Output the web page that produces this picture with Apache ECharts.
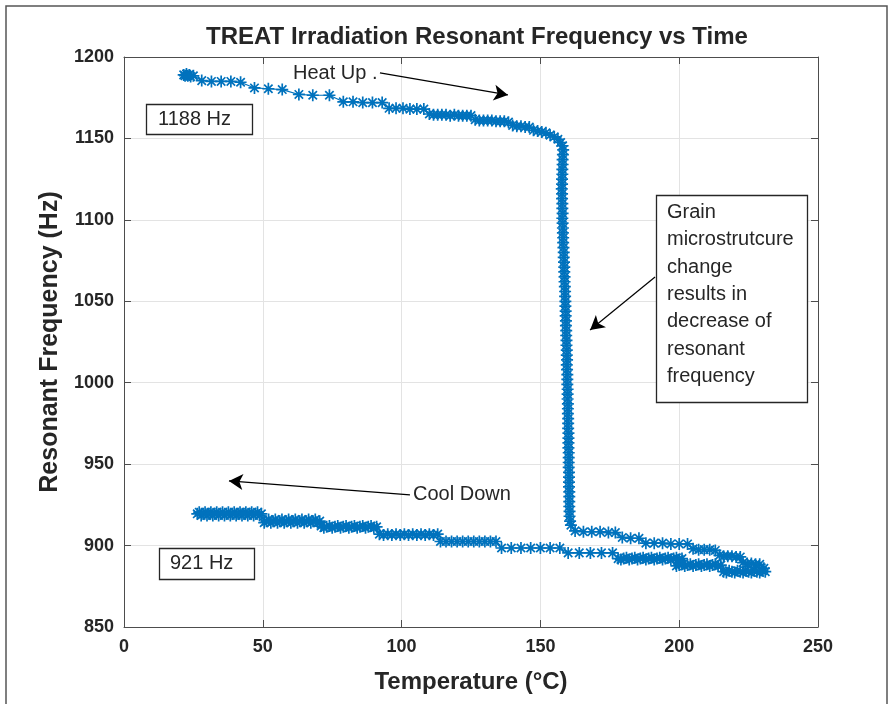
<!DOCTYPE html>
<html><head><meta charset="utf-8">
<script src="https://cdn.jsdelivr.net/npm/echarts/dist/echarts.min.js"></script>
<style>html,body{margin:0;padding:0;background:#fff}#c{width:893px;height:704px}</style>
</head><body><div id="c"></div><script>
const xTicks = [0, 50, 100, 150, 200, 250];
const yTicks = [850, 900, 950, 1000, 1050, 1100, 1150, 1200];

// Heat up: slow decrease
const heatUpTop = [
[21.5,1189],[22,1188.5],[22.5,1189.5],[23,1188.5],[23.5,1189],[24,1188],[25,1188.5],
[28,1185.5],[31.5,1185],[35,1185],[38.5,1185],[42,1184.5],
[47,1181],[52,1180.5],[57,1180],
[63,1177],[68,1176.5],[74,1176.5],
[79,1172.5],[82.5,1172.5],[86,1172],[89.5,1172],[93,1172],
[95.5,1168.5],[98,1168.5],[100.5,1168.5],[103,1168],[105.5,1168],[108,1168],
[110,1165],[111.5,1164.5],[113,1164.5],[114.5,1164.5],[116,1164.5],[117.5,1164],[119,1164.5],[120.5,1164],[122,1164],[123.5,1164],[125,1164],
[126.5,1161.5],[128,1161],[129.5,1161],[131,1161],[132.5,1161],[134,1160.5],[135.5,1160.5],[137,1160.5],[138.5,1160],
[140,1158],[141.5,1157.5],[143,1157.5],[144.5,1157],[146,1157],
[147.5,1155],[149,1154.5],[150.5,1154],[152,1153.5],
[153.5,1152],[155,1151],[156.3,1149.5],[157.3,1147.5],[158,1145.5]
];
// Heat up: sharp drop (grain microstructure change)
const heatUpDrop = [
[158.2,1143],[158.1,1140],[158,1137],[158,1134],[157.9,1131],[157.9,1128],[157.8,1125],[157.8,1122],[157.7,1119],[157.8,1116],
[157.8,1113],[157.9,1110],[157.9,1107],[158,1104],[157.9,1101],[158,1098],[158.1,1095],[158.1,1092],[158.2,1089],[158.2,1086],
[158.3,1083],[158.4,1080],[158.4,1077],[158.5,1074],[158.6,1071],[158.6,1068],[158.7,1065],[158.7,1062],[158.8,1059],[158.9,1056],
[158.9,1053],[159,1050],[159,1047],[159.1,1044],[159.1,1041],[159.2,1038],[159.2,1035],[159.3,1032],[159.3,1029],[159.4,1026],
[159.4,1023],[159.5,1020],[159.5,1017],[159.6,1014],[159.5,1011],[159.6,1008],[159.7,1005],[159.7,1002],[159.7,999],[159.8,996],
[159.8,993],[159.8,990],[159.9,987],[159.9,984],[159.9,981],[160,978],[160,975],[160,972],[160.1,969],[160.1,966],
[160.1,963],[160.1,960],[160.2,957],[160.2,954],[160.2,951],[160.2,948],[160.3,945],[160.3,942],[160.3,939],[160.3,936],
[160.4,933],[160.4,930],[160.4,927],[160.4,924],[160.5,921],[160.5,918],[160.7,915],[161,912.5]
];
// Heat up: after the drop, up to max temperature
const heatUpBottom = [
[162.5,909],[165.5,908.5],[168.5,908.5],[171.5,908.5],[174.5,908],[177,908],
[179.5,905],[182.5,904.5],[185.5,904.5],
[188,901.5],[191,901.5],[194,901.5],[197,901],[200,901],[203,901],
[205,898],[207,897.5],[209,897.5],[211,897.5],[213,897],
[214.5,894],[216,893.5],[217.5,893.5],[219,893.5],[220.5,893],[222,893],
[223,889.5],[224.5,889],[226,889],[227.5,888.5],[229,888.5],[230.5,886]
];
// Cool down: high temperature part
const coolDownRight = [
[231,884],[230,884.5],[229,883.5],[228,884],[227,884.5],[226,883.5],[225,884],[224,884.5],[223,883.5],[222,884],[221,884.5],[220,883.5],[219,884],[218,884.5],[217,883.5],[216,884],
[215,888],[214,887.5],[213,888.5],[212,888],[211,887.5],[210,888.5],[209,888],[208,887.5],[207,888.5],[206,888],[205,887.5],[204,888.5],[203,888],[202,887.5],[201,888.5],[200,888],[199,887.5],
[201,892],[200,891.5],[199,892.5],[198,892],[197,891.5],[196,892.5],[195,892],[194,891.5],[193,892.5],[192,892],[191,891.5],[190,892.5],[189,892],[188,891.5],[187,892.5],[186,892],[185,891.5],[184,892.5],[183,892],[182,891.5],[181,892.5],[180,892],[179,891.5],[178,892],
[176,895.5],[172,895.5],[168,895.5],[164,895.5],[160,895.5],
[157,898.5],[153.5,898.5],[150,898.5],[146.5,898.5],[143,898.5],[139.5,898.5],[136,898.5]
];
// Cool down: low temperature part
const coolDownLeft = [
[134,902.5],[132,902.5],[130,902.5],[128,902.5],[126,902.5],[124,902.5],[122,902.5],[120,902.5],[118,902.5],[116,902.5],[114,902.5],
[113,907],[111.5,906.5],[110,907],[108.5,906.5],[107,907],[105.5,906.5],[104,907],[102.5,906.5],[101,907],[99.5,906.5],[98,907],[96.5,906.5],[95,907],[93.5,906.5],[92,907],
[91,911.5],[90,911],[89,912],[88,911.5],[87,911],[86,912],[85,911.5],[84,911],[83,912],[82,911.5],[81,911],[80,912],[79,911.5],[78,911],[77,912],[76,911.5],[75,911],[74,912],[73,911.5],[72,911],[71,912],
[70.5,915],[69.7,914],[68.9,916],[68.1,915],[67.3,914],[66.5,916],[65.7,915],[64.9,914],[64.1,916],[63.3,915],[62.5,914],[61.7,916],[60.9,915],[60.1,914],[59.3,916],[58.5,915],[57.7,914],[56.9,916],[56.1,915],[55.3,914],[54.5,916],[53.7,915],[52.9,914],[52.1,916],[51.3,915],[50.5,914],
[49.5,919.5],[48.8,918.5],[48.1,920.5],[47.4,919.5],[46.7,918.5],[46,920.5],[45.3,919.5],[44.6,918.5],[43.9,920.5],[43.2,919.5],[42.5,918.5],[41.8,920.5],[41.1,919.5],[40.4,918.5],[39.7,920.5],[39,919.5],[38.3,918.5],[37.6,920.5],[36.9,919.5],[36.2,918.5],[35.5,920.5],[34.8,919.5],[34.1,918.5],[33.4,920.5],[32.7,919.5],[32,918.5],[31.3,920.5],[30.6,919.5],[29.9,918.5],[29.2,920.5],[28.5,919.5],[27.8,918.5],[27.1,920.5],[26.4,919.5]
];

// Annotation arrows [from, to] in data coordinates
const arrows = [
  [[92.2, 1190.2], [138.3, 1176.7]],
  [[103, 931.1], [37.8, 939.7]],
  [[191.3, 1064.9], [167.9, 1032.4]]
];

const allData = heatUpTop.concat(heatUpDrop, heatUpBottom, coolDownRight, coolDownLeft);

const BLUE = '#0072BD';
const TXT = '#262626';
const AXC = '#4d4d4d';
const FONT = '"Liberation Sans", Arial, Helvetica, sans-serif';
const asterisk = 'path://M10 0L10 20M0 10L20 10M3 3L17 17M17 3L3 17';

const chart = echarts.init(document.getElementById('c'), null, {renderer: 'canvas'});

const baseAxis = {
  axisLine: {show: true, onZero: false, lineStyle: {color: AXC, width: 1}},
  axisTick: {show: true, inside: true, length: 7, lineStyle: {color: AXC}},
};

chart.setOption({
  animation: false,
  backgroundColor: '#fff',
  title: {
    text: 'TREAT Irradiation Resonant Frequency vs Time',
    left: 472, top: 20, textAlign: 'center',
    textStyle: {fontFamily: FONT, fontSize: 24, fontWeight: 'bold', color: TXT}
  },
  grid: {left: 124, right: 75, top: 57, bottom: 77, containLabel: false},
  xAxis: [
    Object.assign({}, baseAxis, {
      type: 'value', min: xTicks[0], max: xTicks[xTicks.length - 1], interval: 50, position: 'bottom',
      name: 'Temperature (°C)', nameLocation: 'middle', nameGap: 43,
      nameTextStyle: {fontFamily: FONT, fontSize: 24, fontWeight: 'bold', color: TXT},
      axisLabel: {fontFamily: FONT, fontSize: 18, fontWeight: 'bold', color: TXT, margin: 11},
      splitLine: {show: true, lineStyle: {color: '#e3e3e3', width: 1}}
    }),
    Object.assign({}, baseAxis, {
      type: 'value', min: 0, max: 250, interval: 50, position: 'top',
      axisLabel: {show: false}, splitLine: {show: false}
    })
  ],
  yAxis: [
    Object.assign({}, baseAxis, {
      type: 'value', min: yTicks[0], max: yTicks[yTicks.length - 1], interval: 50, position: 'left',
      name: 'Resonant Frequency (Hz)', nameLocation: 'middle', nameGap: 58, nameRotate: 90,
      nameTextStyle: {fontFamily: FONT, fontSize: 25, fontWeight: 'bold', color: TXT},
      axisLabel: {fontFamily: FONT, fontSize: 18, fontWeight: 'bold', color: TXT, margin: 10,
        formatter: v => String(v)},
      splitLine: {show: true, lineStyle: {color: '#e3e3e3', width: 1}}
    }),
    Object.assign({}, baseAxis, {
      type: 'value', min: 850, max: 1200, interval: 50, position: 'right',
      axisLabel: {show: false}, splitLine: {show: false}
    })
  ],
  series: [{
    type: 'line',
    data: allData,
    xAxisIndex: 0, yAxisIndex: 0,
    symbol: asterisk,
    symbolSize: 12,
    showSymbol: true,
    showAllSymbol: true,
    lineStyle: {color: BLUE, width: 1.2},
    itemStyle: {color: BLUE, borderColor: BLUE, borderWidth: 1.7},
    emphasis: {disabled: true},
    z: 3,
    markLine: {
      silent: true,
      symbol: ['none', 'arrow'],
      symbolSize: [12, 14],
      label: {show: false},
      lineStyle: {color: '#000', width: 1.2, type: 'solid'},
      emphasis: {disabled: true},
      data: arrows.map(a => [{coord: a[0]}, {coord: a[1]}])
    }
  }],
  graphic: [
    {type: 'rect', shape: {x: 6, y: 6, width: 881, height: 720}, style: {fill: 'none', stroke: '#555', lineWidth: 1.5}, silent: true},
    {type: 'text', left: 293, top: 63, style: {text: 'Heat Up .', fontFamily: FONT, fontSize: 20, fill: TXT}},
    {type: 'text', left: 413, top: 484, style: {text: 'Cool Down', fontFamily: FONT, fontSize: 20, fill: TXT}},
    {type: 'rect', shape: {x: 146.5, y: 104.5, width: 106, height: 30}, style: {fill: '#fff', stroke: '#262626', lineWidth: 1.3}, z: 10},
    {type: 'text', left: 158, top: 109, z: 11, style: {text: '1188 Hz', fontFamily: FONT, fontSize: 20, fill: TXT}},
    {type: 'rect', shape: {x: 159.5, y: 548.5, width: 95, height: 31}, style: {fill: '#fff', stroke: '#262626', lineWidth: 1.3}, z: 10},
    {type: 'text', left: 170, top: 553, z: 11, style: {text: '921 Hz', fontFamily: FONT, fontSize: 20, fill: TXT}},
    {type: 'rect', shape: {x: 656.5, y: 195.5, width: 151, height: 207}, style: {fill: '#fff', stroke: '#262626', lineWidth: 1.3}, z: 10},
    {type: 'text', left: 667, top: 199, z: 11, style: {
      text: 'Grain\nmicrostrutcure\nchange\nresults in\ndecrease of\nresonant\nfrequency',
      fontFamily: FONT, fontSize: 20, lineHeight: 27.3, fill: TXT}}
  ]
});
</script></body></html>
